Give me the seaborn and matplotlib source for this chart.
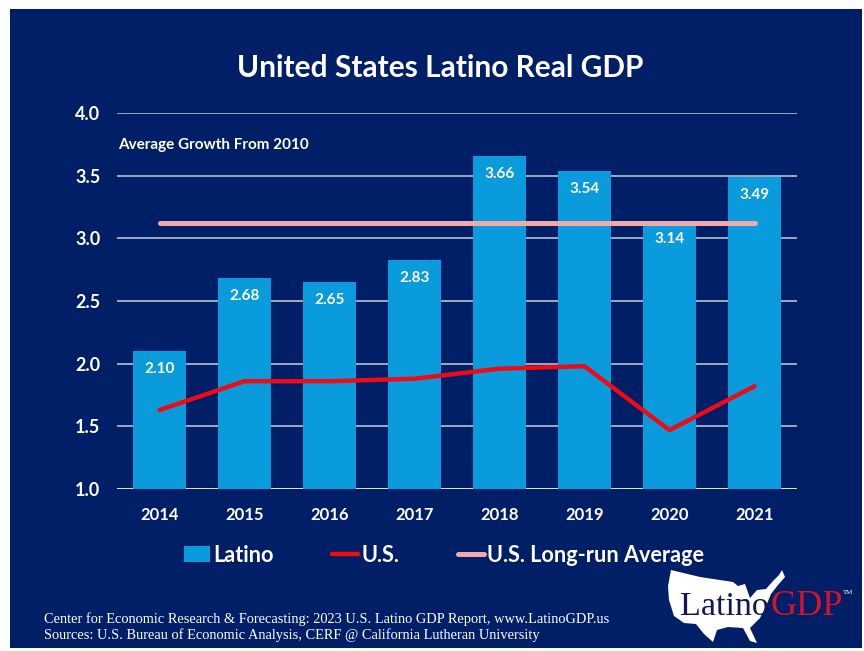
import matplotlib
matplotlib.use("Agg")
import matplotlib.pyplot as plt
from matplotlib.patches import Polygon, Rectangle
import pandas as pd
import seaborn as sns

# === Data ===
years = ["2014", "2015", "2016", "2017", "2018", "2019", "2020", "2021"]
latino = [2.10, 2.68, 2.65, 2.83, 3.66, 3.54, 3.14, 3.49]
us = [1.63, 1.86, 1.86, 1.88, 1.96, 1.98, 1.47, 1.82]
us_avg = [3.12, 3.12, 3.12, 3.12, 3.12, 3.12, 3.12, 3.12]
y_ticks = [1.0, 1.5, 2.0, 2.5, 3.0, 3.5, 4.0]

NAVY = "#001F66"
BLUE = "#0A9BDC"
RED = "#F00A14"
PINK = "#F2A9A9"
W, H = 864, 651

df = pd.DataFrame({"year": years, "latino": latino, "us": us, "us_avg": us_avg})

sns.set_theme(style="white")
plt.rcParams["font.family"] = ["Lato", "DejaVu Sans"]


def px(x, y):
    # pixel position in the picture -> figure fraction
    return x / W, 1 - y / H


fig = plt.figure(figsize=(W / 100, H / 100), dpi=100, facecolor="white")
fig.patches.append(Rectangle(px(10, 648), 852 / W, 639 / H, transform=fig.transFigure,
                             facecolor=NAVY, edgecolor="none", zorder=-5))

ax = fig.add_axes([117 / W, 1 - 489 / H, 680 / W, 376 / H])
ax.patch.set_alpha(0)

# bars and lines
sns.barplot(data=df, x="year", y="latino", color=BLUE, width=0.62, saturation=1,
            linewidth=0, label="Latino", ax=ax, zorder=3)
sns.lineplot(data=df, x="year", y="us", color=RED, linewidth=3.2, label="U.S.",
             ax=ax, zorder=4)
sns.lineplot(data=df, x="year", y="us_avg", color=PINK, linewidth=3.6,
             label="U.S. Long-run Average", ax=ax, zorder=5)

ax.bar_label(ax.containers[0], fmt="%.2f", padding=-18, color="white",
             fontsize=11, fontweight="bold", zorder=6)

ax.set_xlim(-0.5, 7.5)
ax.set_ylim(1, 4)
ax.set_yticks(y_ticks)
ax.set_yticklabels([f"{t:.1f}" for t in y_ticks])
ax.set_xlabel("")
ax.set_ylabel("")
ax.yaxis.grid(True, color="#C9CEDD", linewidth=1.1, zorder=1)
ax.set_axisbelow(True)
sns.despine(ax=ax, left=True, bottom=True, top=True, right=True)
ax.tick_params(axis="y", length=0, pad=12, labelcolor="white", labelsize=13)
ax.tick_params(axis="x", length=0, pad=13, labelcolor="white", labelsize=12)
for lab in ax.get_xticklabels() + ax.get_yticklabels():
    lab.set_fontweight("bold")
ax.axhline(1, color="#E4E7EF", linewidth=1.3, zorder=2)

fig.text(*px(118, 145), "Average Growth From 2010", color="white", fontsize=11,
         fontweight="bold", va="center", ha="left")

# legend, Latino first
handles, labels = ax.get_legend_handles_labels()
order = [labels.index(n) for n in ["Latino", "U.S.", "U.S. Long-run Average"]]
leg = ax.legend([handles[i] for i in order], [labels[i] for i in order], loc="center",
                bbox_to_anchor=(444 / W, 1 - 555 / H), bbox_transform=fig.transFigure,
                ncols=3, frameon=False, fontsize=15.6, handlelength=1.2,
                handletextpad=0.15, columnspacing=2.7)
for t in leg.get_texts():
    t.set_color("white")
    t.set_fontweight("bold")

# title and footer
fig.text(*px(440, 68), "United States Latino Real GDP", color="white", fontsize=21.5,
         fontweight="bold", ha="center", va="center")
fig.text(*px(44, 619), "Center for Economic Research & Forecasting: 2023 U.S. Latino GDP Report, www.LatinoGDP.us",
         color="white", fontsize=10.4, family="Liberation Serif", va="center")
fig.text(*px(44, 635), "Sources: U.S. Bureau of Economic Analysis, CERF @ California Lutheran University",
         color="white", fontsize=10.4, family="Liberation Serif", va="center")

# logo: rough map outline with the LatinoGDP wordmark
map_outline = [(671, 570), (700, 577), (733, 582), (738, 586), (745, 584), (750, 598),
               (757, 590), (766, 589), (773, 581), (779, 575), (782, 570), (785, 577),
               (778, 585), (771, 594), (766, 606), (760, 618), (750, 628), (757, 643),
               (750, 641), (743, 628), (728, 627), (717, 630), (713, 642), (704, 634),
               (696, 624), (684, 623), (674, 616), (669, 600), (668, 586)]
fig.patches.append(Polygon([px(*p) for p in map_outline], closed=True, transform=fig.transFigure,
                           facecolor="white", edgecolor="none", zorder=-4))
fig.text(*px(680, 615), "Latino", color="#14145A", fontsize=24.5, family="Liberation Serif",
         va="baseline", ha="left")
fig.text(*px(771, 615), "GDP", color="#D8122A", fontsize=26, family="Liberation Serif",
         va="baseline", ha="left")
fig.text(*px(843, 593), "TM", color="white", fontsize=5, family="Liberation Serif",
         va="center", ha="left")

fig.savefig("out.png", dpi=100, facecolor="white")
